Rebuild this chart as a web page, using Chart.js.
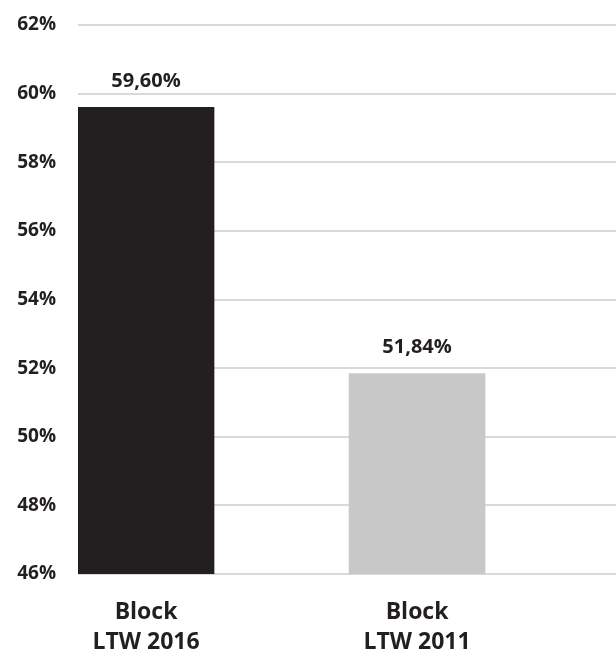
<!DOCTYPE html>
<html>
<head>
<meta charset="utf-8">
<script src="https://cdn.jsdelivr.net/npm/chart.js@4"></script>
<style>
    html, body { margin: 0; padding: 0; background: #ffffff; }
    #wrap { width: 616px; height: 655px; }
</style>
</head>
<body>
<div id="wrap"><canvas id="bar-chart"></canvas></div>
<script>
// chart data
let categories = [["Block", "LTW 2016"], ["Block", "LTW 2011"]];
let shareValues = [59.60, 51.84];
let barColors = ["#231f20", "#c8c8c8"];
let yTicks = [46, 48, 50, 52, 54, 56, 58, 60, 62];

let textColor = "#231f20";
let fontFamily = "'Open Sans', Lato, sans-serif";

// draws the value above each bar, e.g. 59,60%
const valueLabels = {
    id: "valueLabels",
    afterDatasetsDraw(chart) {
        const ctx = chart.ctx;
        const meta = chart.getDatasetMeta(0);
        ctx.save();
        ctx.font = "bold 20px " + fontFamily;
        ctx.fillStyle = textColor;
        ctx.textAlign = "center";
        ctx.textBaseline = "middle";
        meta.data.forEach((bar, i) => {
            const txt = shareValues[i].toFixed(2).replace(".", ",") + "%";
            ctx.fillText(txt, bar.x, bar.y - 26);
        });
        ctx.restore();
    },
};

let chartCanvas = document.getElementById("bar-chart");

new Chart(chartCanvas, {
    type: "bar",
    data: {
        datasets: [
            {
                data: shareValues.map((v, i) => ({ x: i, y: v })),
                backgroundColor: barColors,
                borderWidth: 0,
                barThickness: 136,
            },
        ],
    },
    options: {
        responsive: true,
        maintainAspectRatio: false,
        animation: false,
        layout: { padding: { top: 25, right: 0, bottom: 0, left: 0 } },
        scales: {
            x: {
                type: "linear",
                min: -0.251,
                max: 1.734,
                offset: false,
                grid: { display: false },
                border: { display: false },
                afterBuildTicks: (axis) => {
                    axis.ticks = categories.map((c, i) => ({ value: i }));
                },
                afterFit: (axis) => {
                    axis.height = 81;
                    axis.paddingLeft = 0;
                    axis.paddingRight = 0;
                },
                ticks: {
                    color: textColor,
                    padding: 16,
                    autoSkip: false,
                    maxRotation: 0,
                    font: { family: fontFamily, size: 23, weight: "bold", lineHeight: 1.3 },
                    callback: (value) => categories[value] || "",
                },
            },
            y: {
                min: 46,
                max: 62,
                afterBuildTicks: (axis) => {
                    axis.ticks = yTicks.map((v) => ({ value: v }));
                },
                afterFit: (axis) => {
                    axis.width = 78;
                    axis.paddingTop = 0;
                    axis.paddingBottom = 0;
                },
                grid: { color: "#d9d9d9", lineWidth: 2, drawTicks: false },
                border: { display: false },
                ticks: {
                    color: textColor,
                    padding: 22,
                    font: { family: fontFamily, size: 19, weight: "bold" },
                    callback: (value) => value + "%",
                },
            },
        },
        plugins: {
            legend: { display: false },
            tooltip: { enabled: false },
        },
    },
    plugins: [valueLabels],
});
</script>
</body>
</html>
